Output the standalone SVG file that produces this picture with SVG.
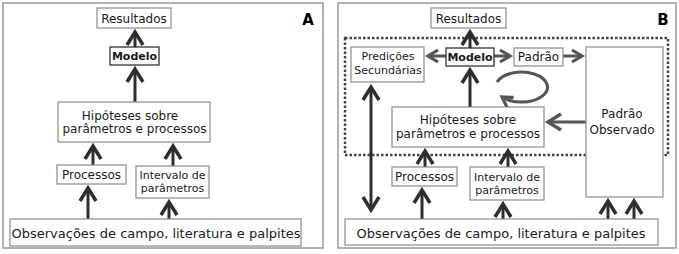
<svg xmlns="http://www.w3.org/2000/svg" width="679" height="254" viewBox="0 0 679 254">
<style>
.panel{fill:#fff;stroke:#999;stroke-width:1.5}
.box{fill:#fff;stroke:#8a8a8a;stroke-width:1.2}
.mbox{fill:#fff;stroke:#222;stroke-width:1.2}
.t{font-family:"DejaVu Sans",Verdana,sans-serif;font-size:12px;fill:#1a1a1a;text-anchor:middle}
.s11{font-size:11px}
.s13{font-size:13px}
.b{font-weight:bold}
.lbl{font-family:"DejaVu Sans",sans-serif;font-weight:bold;font-size:15px;fill:#000;text-anchor:middle}
.dk{stroke:#2e2e2e;stroke-width:3;fill:none}
.gr{stroke:#555;stroke-width:3;fill:none}
.dot{fill:none;stroke:#444;stroke-width:2.5;stroke-dasharray:2.5 2}
</style>
<defs>
<marker id="bigDark" markerUnits="userSpaceOnUse" viewBox="-20 -12 26 24" refX="0" refY="0" markerWidth="26" markerHeight="24" orient="auto-start-reverse">
<path d="M-13,-8 L0,0 L-13,8" fill="none" stroke="#2e2e2e" stroke-width="3.5"/>
</marker>
<marker id="bigGray" markerUnits="userSpaceOnUse" viewBox="-20 -12 26 24" refX="0" refY="0" markerWidth="26" markerHeight="24" orient="auto">
<path d="M-13,-8 L0,0 L-13,8" fill="none" stroke="#555" stroke-width="3.5"/>
</marker>
<marker id="smGray" markerUnits="userSpaceOnUse" viewBox="-16 -10 22 20" refX="0" refY="0" markerWidth="22" markerHeight="20" orient="auto">
<path d="M-10,-6 L0,0 L-10,6" fill="none" stroke="#555" stroke-width="3.2"/>
</marker>
</defs>
<rect width="679" height="254" fill="#fff"/>
<g id="panelA">
<rect class="panel" x="3" y="3" width="320" height="245"/>
<text class="lbl" x="308" y="25">A</text>
</g>
<g id="panelB">
<rect class="panel" x="338" y="3" width="338" height="245"/>
<text class="lbl" x="663" y="25">B</text>
<rect class="dot" x="345" y="38" width="323" height="117"/>
</g>
<g id="connectors">
<!-- Panel A -->
<line class="dk" x1="135" y1="47" x2="135" y2="32" marker-end="url(#bigDark)"/>
<line class="dk" x1="135" y1="102" x2="135" y2="69" marker-end="url(#bigDark)"/>
<line class="dk" x1="93" y1="165" x2="93" y2="146" marker-end="url(#bigDark)"/>
<line class="dk" x1="173" y1="166" x2="173" y2="146" marker-end="url(#bigDark)"/>
<line class="dk" x1="88" y1="219" x2="88" y2="188" marker-end="url(#bigDark)"/>
<line class="dk" x1="169" y1="219" x2="169" y2="202" marker-end="url(#bigDark)"/>
<!-- Panel B -->
<line class="dk" x1="470" y1="48" x2="470" y2="32" marker-end="url(#bigDark)"/>
<line class="dk" x1="470" y1="107" x2="470" y2="70" marker-end="url(#bigDark)"/>
<line class="gr" x1="446" y1="56" x2="428" y2="56" marker-end="url(#smGray)"/>
<line class="gr" x1="494" y1="56" x2="510" y2="56" marker-end="url(#smGray)"/>
<line class="gr" x1="563" y1="56" x2="582" y2="56" marker-end="url(#smGray)"/>
<line class="gr" x1="586" y1="122" x2="548" y2="122" marker-end="url(#bigGray)"/>
<path class="gr" d="M497,82 A26,15 0 1 1 502,97" marker-end="url(#smGray)"/>
<line class="dk" x1="371" y1="87" x2="371" y2="210" marker-start="url(#bigDark)" marker-end="url(#bigDark)"/>
<line class="dk" x1="425" y1="167" x2="425" y2="151" marker-end="url(#bigDark)"/>
<line class="dk" x1="508" y1="167" x2="508" y2="151" marker-end="url(#bigDark)"/>
<line class="dk" x1="422" y1="219" x2="422" y2="190" marker-end="url(#bigDark)"/>
<line class="dk" x1="503" y1="219" x2="503" y2="204" marker-end="url(#bigDark)"/>
<line class="dk" x1="608" y1="219" x2="608" y2="201" marker-end="url(#bigDark)"/>
<line class="dk" x1="634" y1="219" x2="634" y2="201" marker-end="url(#bigDark)"/>
</g>
<!-- Panel A nodes -->
<g id="a-resultados">
<rect class="box" x="97" y="8" width="74" height="20"/>
<text class="t" x="134" y="23">Resultados</text>
</g>
<g id="a-modelo">
<rect class="mbox" x="110" y="47" width="49" height="18"/>
<text class="t b s11" x="134.5" y="60">Modelo</text>
</g>
<g id="a-hipoteses">
<rect class="box" x="58" y="102" width="152" height="40"/>
<text class="t" x="130" y="120">Hipóteses sobre</text>
<text class="t" x="134.5" y="133">parâmetros e processos</text>
</g>
<g id="a-processos">
<rect class="box" x="57" y="165" width="69" height="19"/>
<text class="t" x="91.5" y="179">Processos</text>
</g>
<g id="a-intervalo">
<rect class="box" x="136" y="166" width="73" height="32"/>
<text class="t s11" x="172.5" y="179">Intervalo de</text>
<text class="t s11" x="172.5" y="192">parâmetros</text>
</g>
<g id="a-observacoes">
<rect class="box" x="10" y="219" width="291" height="27"/>
<text class="t s13" x="156" y="238">Observações de campo, literatura e palpites</text>
</g>
<!-- Panel B nodes -->
<g id="b-resultados">
<rect class="box" x="431" y="8" width="75" height="20"/>
<text class="t" x="468.5" y="23">Resultados</text>
</g>
<g id="b-predicoes">
<rect class="box" x="351" y="47" width="73" height="35"/>
<text class="t s11" x="388" y="60">Predições</text>
<text class="t s11" x="388" y="74">Secundárias</text>
</g>
<g id="b-modelo">
<rect class="mbox" x="446" y="48" width="48" height="18"/>
<text class="t b s11" x="470" y="61">Modelo</text>
</g>
<g id="b-padrao">
<rect class="box" x="514" y="48" width="49" height="18"/>
<text class="t" x="538.5" y="61">Padrão</text>
</g>
<g id="b-padrao-observado">
<rect class="box" x="586" y="47" width="77" height="150"/>
<text class="t" x="622" y="118">Padrão</text>
<text class="t" x="622" y="134">Observado</text>
</g>
<g id="b-hipoteses">
<rect class="box" x="392" y="107" width="152" height="40"/>
<text class="t" x="468" y="124">Hipóteses sobre</text>
<text class="t" x="468" y="138">parâmetros e processos</text>
</g>
<g id="b-processos">
<rect class="box" x="392" y="167" width="65" height="19"/>
<text class="t" x="424.5" y="181">Processos</text>
</g>
<g id="b-intervalo">
<rect class="box" x="470" y="167" width="74" height="33"/>
<text class="t s11" x="507" y="181">Intervalo de</text>
<text class="t s11" x="507" y="194">parâmetros</text>
</g>
<g id="b-observacoes">
<rect class="box" x="345" y="219" width="313" height="26"/>
<text class="t s13" x="501" y="238">Observações de campo, literatura e palpites</text>
</g>
</svg>
